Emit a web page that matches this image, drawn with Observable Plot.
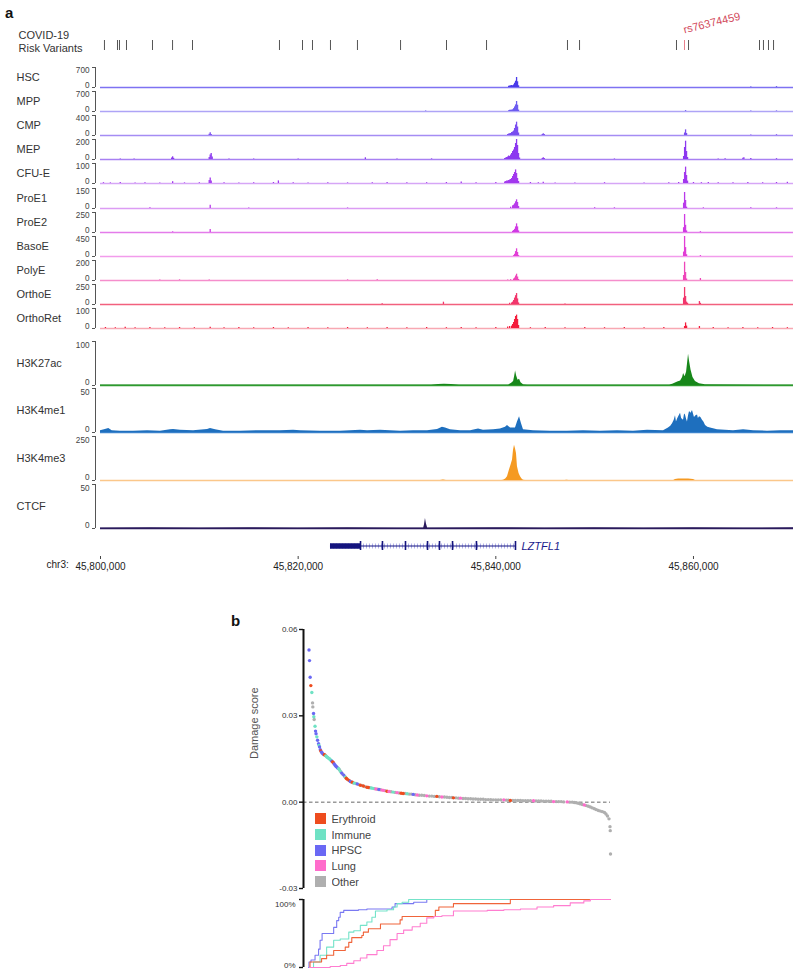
<!DOCTYPE html>
<html><head><meta charset="utf-8">
<script src="https://cdn.jsdelivr.net/npm/d3@7"></script>
<script src="https://cdn.jsdelivr.net/npm/@observablehq/plot@0.6"></script>
<style>
body{margin:0;background:#fff;font-family:"Liberation Sans",Arial,Helvetica,sans-serif;}
#root{position:relative;width:800px;height:976px;overflow:hidden;background:#fff;}
.letter{position:absolute;font-weight:bold;font-size:15px;line-height:15px;color:#111;}
</style></head>
<body><div id="root"></div>
<script>
const FONT = '"Liberation Sans", Arial, Helvetica, sans-serif';
// ---------- panel a data ----------
const regionStart = 45800000, regionEnd = 45870120;
const axisTicks = [45800000, 45820000, 45840000, 45860000];
const chromName = "chr3:";
// risk variants (kb offset from regionStart)
const riskVariantKb = [0.40,1.72,1.92,2.63,5.26,7.29,9.31,18.11,20.44,21.45,23.27,26.00,30.36,35.01,39.06,47.25,48.47,58.28,59.50,66.68,67.08,67.59,68.10];
const leadVariantKb = 59.09;
const leadVariantName = "rs76374459";

// ATAC tracks
const trackNames = ["HSC","MPP","CMP","MEP","CFU-E","ProE1","ProE2","BasoE","PolyE","OrthoE","OrthoRet"];
const trackMax = [700,700,400,200,100,150,250,450,200,250,100];
const trackColors = ["#4A3AEA","#6C5CF0","#7A4EF0","#8C38F0","#A238EE","#B83AEA","#D03AE4","#E23ED6","#EE46BA","#F2366C","#F41C3C"];
const trackBaseColors = ["#7E72F2","#AEA4F6","#A58CF4","#A880F2","#D6A6F6","#DC9CF4","#E47CEA","#F29CEC","#F58ECC","#F2607E","#F8A8B2"];
const trackTops = [67,91,115,139,163,188,212,236,260,284,308];

const hscBins = [[41.3,40],[41.4,50],[41.5,60],[41.6,70],[41.7,60],[41.8,90],[41.9,150],[42.0,220],[42.1,350],[42.2,200],[42.3,60],[65.8,20],[68.4,25]];
const mppBins = [[32.9,15],[41.3,30],[41.4,40],[41.5,45],[41.6,50],[41.7,60],[41.8,100],[41.9,160],[42.0,230],[42.1,350],[42.2,220],[42.3,50],[59.2,30],[65.8,15],[68.4,20]];
const cmpBins = [[11.0,25],[11.1,53],[11.2,20],[41.2,20],[41.3,30],[41.4,35],[41.5,40],[41.6,60],[41.7,70],[41.8,90],[41.9,140],[42.0,210],[42.1,267],[42.2,170],[42.3,50],[44.7,20],[44.8,33],[44.9,20],[59.1,50],[59.2,113],[59.3,40],[65.8,10],[68.4,15]];
const mepBins = [[2.0,6],[3.4,5],[7.2,15],[7.3,27],[7.4,12],[11.0,20],[11.1,45],[11.2,60],[11.3,25],[13.0,5],[15.5,6],[20.0,5],[26.8,17],[30.0,5],[33.5,6],[40.9,10],[41.0,15],[41.1,20],[41.2,25],[41.3,35],[41.4,30],[41.5,45],[41.6,60],[41.7,80],[41.8,95],[41.9,120],[42.0,160],[42.1,200],[42.2,140],[42.3,60],[42.4,15],[44.7,10],[44.8,17],[44.9,10],[52.0,5],[59.0,30],[59.1,120],[59.2,183],[59.3,80],[59.4,20],[62.5,6],[63.2,8],[65.0,12],[65.1,17],[65.8,10],[68.4,8]];
const cfueBins = [[0.3,4],[1.0,3],[2.0,5],[3.5,3],[4.5,4],[6.0,3],[7.3,9],[8.5,3],[10.0,4],[11.0,15],[11.1,27],[11.2,12],[12.5,4],[14.0,3],[15.5,4],[17.5,5],[18.0,13],[19.5,4],[21.0,3],[23.0,4],[25.0,3],[27.5,4],[29.0,5],[31.0,4],[33.0,4],[35.0,5],[36.5,7],[38.0,4],[40.0,5],[40.9,8],[41.0,10],[41.1,12],[41.2,12],[41.3,15],[41.4,18],[41.5,20],[41.6,25],[41.7,35],[41.8,45],[41.9,55],[42.0,68],[42.1,50],[42.2,25],[42.3,10],[43.5,5],[44.3,4],[44.8,6],[46.0,3],[48.0,3],[51.0,4],[55.0,3],[57.5,4],[58.5,5],[59.0,20],[59.1,55],[59.2,82],[59.3,40],[59.4,12],[60.0,5],[60.8,4],[61.5,5],[62.5,4],[64.0,4],[65.5,5],[67.0,4],[68.4,5],[69.5,6]];
const proe1Bins = [[5.0,5],[11.1,25],[15.0,4],[25.0,4],[41.5,10],[41.7,20],[41.8,25],[41.9,35],[42.0,50],[42.1,65],[42.2,45],[42.3,15],[50.0,5],[52.0,5],[59.0,40],[59.1,120],[59.2,60],[59.3,10],[61.0,5],[65.8,5],[68.4,5]];
const proe2Bins = [[7.3,8],[11.1,37],[41.7,15],[41.8,25],[41.9,40],[42.0,70],[42.1,108],[42.2,70],[42.3,20],[59.0,60],[59.1,225],[59.2,90],[59.3,20],[60.7,10]];
const basoeBins = [[41.8,20],[41.9,50],[42.0,110],[42.1,173],[42.2,90],[42.3,20],[59.0,100],[59.1,450],[59.2,200],[59.3,40],[60.7,20]];
const polyeBins = [[6.0,6],[8.0,6],[11.0,5],[25.0,6],[28.0,8],[41.2,6],[41.5,8],[41.8,15],[41.9,25],[42.0,45],[42.1,63],[42.2,35],[42.3,10],[59.0,50],[59.1,183],[59.2,80],[59.3,15],[60.7,20]];
const orthoeBins = [[28.5,8],[34.7,29],[41.4,15],[41.6,20],[41.7,30],[41.8,50],[41.9,80],[42.0,110],[42.1,137],[42.2,70],[42.3,20],[47.0,5],[59.0,80],[59.1,212],[59.2,100],[59.3,30],[59.4,15],[60.6,37],[60.7,15]];
const orthoretBins = [[0.5,5],[1.5,4],[2.5,6],[3.5,4],[5.0,5],[6.5,4],[8.0,5],[9.5,4],[11.1,6],[12.5,4],[14.0,5],[15.5,4],[17.5,5],[19.0,4],[21.0,5],[23.0,4],[25.0,5],[27.0,4],[29.0,5],[31.0,4],[33.0,5],[35.0,4],[36.5,5],[38.0,4],[40.0,5],[41.2,8],[41.4,10],[41.6,12],[41.7,20],[41.8,30],[41.9,45],[42.0,60],[42.1,67],[42.2,45],[42.3,15],[43.5,4],[45.0,5],[47.0,4],[49.0,5],[51.0,4],[53.0,5],[55.0,4],[57.0,5],[59.1,10],[59.2,28],[59.3,12],[60.6,10],[62.0,5],[63.5,4],[65.0,5],[66.5,4],[68.0,5],[69.5,4]];
const trackBins = [hscBins,mppBins,cmpBins,mepBins,cfueBins,proe1Bins,proe2Bins,basoeBins,polyeBins,orthoeBins,orthoretBins];

// ChIP tracks
const chipNames = ["H3K27ac","H3K4me1","H3K4me3","CTCF"];
const chipMax = [100,50,250,50];
const chipColors = ["#17871A","#1E6FBE","#F59A22","#2A1A5C"];
const chipBaseColors = ["#2E9A2E","#3A82CC","#FBC78A","#2A1A5C"];
const chipTops = [341,388,436,484];
const h3k27acSignal = [[0,1],[33.5,1],[34.2,2.5],[34.8,3],[35.5,2],[36.3,1],[41.3,1],[41.6,5],[41.8,9],[41.9,20],[42.0,33],[42.1,22],[42.25,12],[42.4,14],[42.55,6],[42.8,1.5],[43.2,1],[57.6,1],[57.9,3],[58.4,8],[58.7,10],[58.9,18],[59.0,27],[59.15,20],[59.3,30],[59.4,50],[59.5,71],[59.6,55],[59.75,35],[59.95,18],[60.2,9],[60.6,4],[61.2,1.5],[70.12,1]];
const h3k4me1Signal = [[0,2],[0.4,3],[0.84,4.5],[1.18,2],[2.02,1.5],[3.34,1.5],[4.76,2],[6.07,1.5],[7.08,3],[7.39,3.4],[8.09,2.5],[9.41,2],[10.83,3.5],[11.13,4.5],[11.64,3],[12.45,1.5],[14.17,1.5],[16.19,2],[18.21,2],[19.53,2.5],[20.24,2],[22.26,1.5],[24.28,1.5],[26.31,2.5],[27.02,2],[28.33,2.5],[29.34,2],[30.36,1.5],[31.67,2],[33.09,2],[34.1,3.5],[34.6,6],[34.91,5],[35.41,3],[36.43,2],[37.44,2],[38.25,4],[38.75,2.5],[39.77,3],[40.47,4],[40.98,6],[41.18,8],[41.49,5],[41.99,5],[42.19,12],[42.4,18],[42.6,10],[42.8,3],[43.81,2],[45.53,1.5],[47.25,1.5],[48.87,2],[50.59,1.5],[52.31,2],[53.93,1.5],[55.35,2.5],[56.97,2],[57.47,5],[57.7,7],[57.88,10],[58.05,14],[58.18,19],[58.28,12],[58.38,15],[58.5,18],[58.69,22],[58.8,16],[58.99,14],[59.1,21],[59.19,20],[59.3,15],[59.39,12],[59.5,19],[59.6,24],[59.75,22],[59.9,25],[60.0,21],[60.1,17],[60.25,19],[60.41,20],[60.5,16],[60.61,18],[60.75,17],[60.91,14],[61.05,12],[61.22,8],[61.45,6],[61.72,5],[62.43,3],[64.05,2],[65.07,3],[66.08,2],[67.49,1.5],[68.81,2],[70.12,2]];
const h3k4me3Signal = [[0,0.5],[34.4,0.5],[34.7,3],[35.0,0.5],[40.6,0.5],[40.78,2],[41.0,8],[41.18,22],[41.38,60],[41.55,90],[41.69,116],[41.79,172],[41.89,200],[41.99,180],[42.09,153],[42.19,78],[42.35,40],[42.5,22],[42.65,8],[42.8,2],[43.0,0.5],[47.0,0.5],[47.2,2],[47.4,0.5],[58.0,0.5],[58.18,5],[58.5,8],[59.0,9],[59.5,9],[60.0,5],[60.2,0.5],[70.12,0.5]];
const ctcfSignal = [[0,0.6],[5,0.8],[10,0.6],[15,0.8],[20,0.6],[25,0.8],[30,0.6],[32.7,0.6],[32.78,4],[32.88,11.5],[32.98,5],[33.1,0.6],[40,0.8],[45,0.6],[50,0.8],[55,0.6],[60,0.8],[65,0.6],[70.12,0.8]];
const chipSignals = [h3k27acSignal,h3k4me1Signal,h3k4me3Signal,ctcfSignal];

// gene
const geneName = "LZTFL1";
const geneSpanKb = [23.27, 41.99];
const geneUtrKb = [23.27, 26.31];
const geneExonKb = [26.31,28.53,30.86,33.09,34.30,35.62,38.04,41.99];

// ---------- panel b data ----------
const groupCodes = ["E","I","H","L","O"];
const groupLabels = ["Erythroid","Immune","HPSC","Lung","Other"];
const groupColors = ["#EE4C1E","#6FE2C4","#6A68F4","#FF6CCB","#AFAFAF"];
const lineColors = {E:"#F0643A", I:"#74E3C9", H:"#7A79F2", L:"#FF7DD0"};
// [rank, damage score, group]
const damagePoints = [
[1,0.0529,"H"],[2,0.0492,"H"],[3.3,0.0434,"H"],[4.6,0.0405,"E"],[6.6,0.0381,"I"],[8,0.0345,"O"],[8.6,0.0331,"O"],[10,0.0308,"H"],[10.6,0.0297,"I"],[11.3,0.0287,"O"],
[13,0.0264,"I"],[14,0.0247,"H"],[15,0.0238,"H"],[16.6,0.0227,"I"],[18,0.0215,"H"],[20,0.0203,"H"],[21,0.0197,"I"],[22,0.0192,"H"],[23.5,0.0182,"H"],[24.5,0.0178,"E"],
[26,0.0174,"H"],[27,0.0171,"H"],[28.5,0.0168,"O"],[30,0.0166,"H"],[31.5,0.0165,"E"],[33,0.0163,"E"],[34.5,0.0161,"I"],[36,0.0158,"I"],[37.5,0.0156,"I"],[39,0.0154,"I"],
[40.5,0.0152,"I"],[42,0.0150,"I"],[43.5,0.0147,"I"],[45,0.0145,"I"],[46.5,0.0142,"H"],[48,0.0140,"E"],[49.5,0.0137,"E"],[51,0.0133,"H"],[52.5,0.0129,"H"],[54,0.0126,"H"],
[55.5,0.0123,"H"],[57,0.0121,"O"],[58.5,0.0118,"H"],[60,0.0116,"I"],[61.5,0.0113,"O"],[63,0.0108,"I"],[64.5,0.0105,"O"],[66,0.0101,"H"],[68,0.0097,"O"],[70,0.0094,"H"],
[72,0.0089,"O"],[73.5,0.0087,"I"],[75,0.0083,"E"],[77,0.0080,"E"],[79,0.0077,"O"],[81,0.0075,"E"],[83,0.0072,"H"],[85,0.0070,"O"],[87,0.0069,"E"],[89,0.0067,"O"],
[91,0.0066,"I"],[94,0.0065,"O"],[97,0.0063,"H"],[100,0.0061,"O"],[103,0.0059,"E"],[106,0.0058,"O"],[109,0.0056,"E"],[112,0.0054,"O"],[116,0.0052,"E"],[119,0.0051,"E"],
[122,0.0050,"O"],[125,0.0049,"I"],[128,0.0048,"I"],[131,0.0047,"O"],[134,0.0046,"L"],[137,0.0045,"O"],[140,0.0044,"H"],[143,0.0043,"O"],[146,0.0042,"L"],[149,0.0041,"L"],
[152,0.0040,"O"],[156,0.0038,"E"],[160,0.0037,"L"],[164,0.0036,"O"],[168,0.0035,"I"],[172,0.0034,"O"],[176,0.0033,"L"],[180,0.0032,"O"],[184,0.0031,"E"],[188,0.0030,"E"],
[192,0.0030,"O"],[196,0.0029,"I"],[200,0.0028,"O"],[204,0.0028,"O"],[208,0.0027,"H"],[212,0.0026,"O"],[216,0.0025,"L"],[220,0.0024,"O"],[225,0.0024,"O"],[230,0.0023,"O"],
[235,0.0022,"L"],[240,0.0021,"O"],[245,0.0021,"O"],[250,0.0020,"O"],[255,0.0020,"E"],[260,0.0019,"O"],[265,0.0018,"L"],[270,0.0018,"O"],[275,0.0017,"O"],[280,0.0016,"O"],
[285,0.0016,"O"],[288,0.0015,"E"],[293,0.0015,"O"],[298,0.0014,"O"],[302,0.0014,"L"],[307,0.0013,"O"],[312,0.0013,"O"],[317,0.0012,"O"],[322,0.0012,"O"],[327,0.0011,"O"],
[332,0.0011,"O"],[337,0.0010,"O"],[342,0.0010,"O"],[347,0.0010,"O"],[352,0.0009,"O"],[357,0.0009,"O"],[362,0.0009,"O"],[367,0.0008,"O"],[372,0.0008,"O"],[377,0.0008,"O"],
[382,0.0008,"O"],[388,0.0008,"L"],[393,0.0007,"O"],[397,0.0007,"O"],[401,0.0006,"E"],[406,0.0006,"O"],[411,0.0006,"O"],[416,0.0006,"O"],[421,0.0006,"O"],[426,0.0005,"O"],
[431,0.0005,"O"],[436,0.0005,"O"],[441,0.0005,"O"],[447,0.0005,"L"],[452,0.0004,"O"],[457,0.0004,"O"],[462,0.0004,"O"],[467,0.0003,"O"],[472,0.0003,"O"],[477,0.0003,"O"],
[482,0.0003,"O"],[487,0.0002,"L"],[492,0.0002,"O"],[497,0.0002,"O"],[502,0.0002,"O"],[507,0.0001,"O"],[514,0.0001,"L"],[519,0.0000,"O"],[524,0.0000,"O"],[528,-0.0001,"O"],
[532,-0.0002,"O"],[536,-0.0004,"O"],[540,-0.0006,"O"],[544,-0.0008,"O"],[548,-0.0010,"L"],[552,-0.0012,"O"],[556,-0.0014,"O"],[560,-0.0017,"O"],[564,-0.0020,"O"],[568,-0.0023,"O"],
[572,-0.0026,"O"],[576,-0.0029,"O"],[580,-0.0031,"O"],[584,-0.0033,"O"],[588,-0.0036,"O"],[591,-0.0041,"O"],[594,-0.0048,"O"],[597,-0.0058,"O"],[599,-0.0085,"O"],[599.5,-0.0099,"O"],
[600,-0.0180,"O"]];
const damageTicks = [-0.03, 0, 0.03, 0.06];
// cumulative fraction (%) per group vs rank, step points
const cumHPSC = [[0,0],[1,8],[5,11],[13,18],[20,27],[23,40],[27,50],[50,59],[56,69],[60,74],[63,81],[70,84],[99,85],[116,86],[166,89],[172,94],[209,96],[235,100],[600,100]];
const cumImmune = [[3,0],[10,8],[23,18],[36,30],[50,40],[63,42],[80,52],[90,54],[103,62],[116,67],[126,74],[133,83],[156,85],[169,89],[176,94],[186,96],[199,100],[600,100]];
const cumErythroid = [[2,0],[3,8],[26,13],[36,18],[50,25],[73,30],[80,37],[86,44],[106,47],[109,52],[119,57],[143,64],[182,70],[186,75],[252,84],[259,89],[288,94],[401,100],[600,100]];
const cumLung = [[2,0],[43,1.5],[63,3],[76,6],[90,10],[103,14],[116,19],[136,25],[149,32],[162,41],[176,50],[189,55],[206,60],[222,65],[235,73],[249,75],[265,76],[288,83],[355,84],[388,85],[421,86],[454,89],[487,91],[520,95],[547,98],[560,100],[600,100]];

// ---------- drawing ----------
const root = document.getElementById("root");
function put(node, left, top) { node.style.position = "absolute"; node.style.left = left + "px"; node.style.top = top + "px"; root.appendChild(node); }
const bp = kb => regionStart + kb * 1000;
const styleA = {background: "none", fontFamily: FONT, overflow: "visible", color: "#333"};

function letter(t, l, tp) { const d = document.createElement("div"); d.className = "letter"; d.textContent = t; d.style.left = l + "px"; d.style.top = tp + "px"; root.appendChild(d); }
letter("a", 5, 5);
letter("b", 231, 613);

// risk variants row
put(Plot.plot({
  width: 800, height: 42, marginLeft: 95, marginRight: 7, marginTop: 30, marginBottom: 2,
  style: styleA,
  x: {domain: [regionStart, regionEnd], insetLeft: 5, axis: null},
  marks: [
    Plot.tickX(riskVariantKb, {x: d => bp(d), stroke: "#555", strokeWidth: 1}),
    Plot.tickX([leadVariantKb], {x: d => bp(d), stroke: "#E8808C", strokeWidth: 1}),
    Plot.text([leadVariantName], {x: () => bp(leadVariantKb), text: d => d, frameAnchor: "top", dy: -7, rotate: -14, textAnchor: "start", lineAnchor: "bottom", fill: "#D24A5C", fontSize: 11}),
    Plot.text(["COVID-19\nRisk Variants"], {text: d => d, frameAnchor: "left", dx: -77, dy: -4, textAnchor: "start", fontSize: 11, lineHeight: 1.15, fill: "#333"})
  ]
}), 0, 10);

function trackPlot(name, max, color, base, top, h, marks) {
  const mt = 6, mb = 3;
  const big = h > 30;
  return Plot.plot({
    width: 800, height: h + mt + mb, marginLeft: 95, marginRight: 7, marginTop: mt, marginBottom: mb,
    style: styleA,
    x: {domain: [regionStart, regionEnd], insetLeft: 5, axis: null},
    y: {domain: [0, max], axis: null},
    marks: [
      Plot.ruleY([0], {x1: () => regionStart, x2: () => regionEnd, stroke: base, strokeWidth: 1.7}),
      ...marks,
      Plot.ruleX([regionStart], {y1: () => 0, y2: () => max, dx: -5, stroke: "#555", strokeWidth: 1}),
      Plot.axisY({ticks: [0, max], tickSize: 3, tickFormat: () => "", stroke: "#555"}),
      Plot.text([max], {y: d => d, text: d => String(d), frameAnchor: "left", dx: -6, dy: big ? 4 : 3, textAnchor: "end", fontSize: 8.2, fill: "#444"}),
      Plot.text([0], {y: d => d, text: d => String(d), frameAnchor: "left", dx: -6, dy: big ? -2.8 : -2, textAnchor: "end", fontSize: 8.2, fill: "#444"}),
      Plot.text([name], {text: d => d, frameAnchor: "left", dx: -79, textAnchor: "start", fontSize: 11, fill: "#333"})
    ]
  });
}

trackNames.forEach((name, i) => {
  const p = trackPlot(name, trackMax[i], trackColors[i], trackBaseColors[i], trackTops[i], 20, [
    Plot.ruleX(trackBins[i], {x: d => bp(d[0]), y1: () => 0, y2: d => d[1], stroke: trackColors[i], strokeWidth: 1.3})
  ]);
  put(p, 0, trackTops[i] - 6);
});

chipNames.forEach((name, i) => {
  const p = trackPlot(name, chipMax[i], chipColors[i], chipBaseColors[i], chipTops[i], 44, [
    Plot.areaY(chipSignals[i], {x: d => bp(d[0]), y: d => d[1], fill: chipColors[i]})
  ]);
  put(p, 0, chipTops[i] - 6);
});

// gene + coordinate axis
put(Plot.plot({
  width: 800, height: 45, marginLeft: 95, marginRight: 7, marginTop: 0, marginBottom: 24,
  style: styleA,
  x: {domain: [regionStart, regionEnd], insetLeft: 5, axis: null},
  y: {type: "band", domain: [geneName], padding: 0, axis: null},
  marks: [
    Plot.ruleY([geneName], {y: d => d, x1: () => bp(geneSpanKb[0]), x2: () => bp(geneSpanKb[1]), stroke: "#7070D8", strokeWidth: 5, strokeDasharray: "0.8 2.2", strokeOpacity: 0.7}),
    Plot.ruleY([geneName], {y: d => d, x1: () => bp(geneSpanKb[0]), x2: () => bp(geneSpanKb[1]), stroke: "#14147E", strokeWidth: 1}),
    Plot.ruleY([geneName], {y: d => d, x1: () => bp(geneUtrKb[0]), x2: () => bp(geneUtrKb[1]), stroke: "#14147E", strokeWidth: 5.5}),
    Plot.tickX(geneExonKb, {x: d => bp(d), y: () => geneName, stroke: "#14147E", strokeWidth: 1.6, insetTop: 6, insetBottom: 6}),
    Plot.text([geneName], {y: d => d, x: () => bp(geneSpanKb[1]), text: d => d, dx: 6, textAnchor: "start", fontStyle: "italic", fontSize: 11, fill: "#1A1A8C"}),
    Plot.axisX({ticks: axisTicks, tickFormat: d3.format(","), tickSize: 3, tickPadding: 3, fontSize: 10, stroke: "#444", fill: "#222"}),
    Plot.text([chromName], {text: d => d, frameAnchor: "bottom-left", dx: -49, dy: 11, textAnchor: "start", fontSize: 10, fill: "#222"})
  ]
}), 0, 535);

// panel b scatter
const grpColor = Object.fromEntries(groupCodes.map((g, i) => [g, groupColors[i]]));
put(Plot.plot({
  width: 400, height: 278, marginLeft: 83, marginRight: 10, marginTop: 14, marginBottom: 5,
  style: styleA,
  x: {domain: [0, 600], insetLeft: 5, axis: null},
  y: {domain: [-0.03, 0.06], axis: null},
  marks: [
    Plot.ruleY([0], {stroke: "#666", strokeDasharray: "3.5 2.5", strokeWidth: 1}),
    Plot.dot(damagePoints.filter(d => d[2] === "O"), {x: d => d[0], y: d => d[1], r: 1.7, fill: d => grpColor[d[2]]}),
    Plot.dot(damagePoints.filter(d => d[2] !== "O"), {x: d => d[0], y: d => d[1], r: 1.7, fill: d => grpColor[d[2]]}),
    Plot.ruleX([0], {y1: () => -0.03, y2: () => 0.06, dx: -5, stroke: "#111", strokeWidth: 2}),
    Plot.axisY({ticks: damageTicks, tickSize: 4, tickPadding: 2, tickFormat: d => d.toFixed(2), fontSize: 8, stroke: "#111", strokeWidth: 1.4, fill: "#333"}),
    Plot.text(["Damage score"], {text: d => d, frameAnchor: "left", rotate: -90, dx: -49, fontSize: 11, fill: "#555"})
  ]
}), 220, 615);

// legend
const leg = Plot.legend({color: {type: "categorical", domain: groupLabels, range: groupColors}, legend: "swatches", columns: 1, swatchSize: 11,
  style: {fontFamily: FONT, fontSize: "11px", color: "#444", background: "none"}});
leg.style.width = "120px";
leg.style.margin = "0";
put(leg, 315, 811);
for (const el of leg.children) { if (el.tagName !== "STYLE") { el.style.height = "15.7px"; el.style.paddingBottom = "0"; el.style.margin = "0"; } }

// cumulative
const cumSeries = [["H", cumHPSC], ["I", cumImmune], ["E", cumErythroid], ["L", cumLung]];
put(Plot.plot({
  width: 400, height: 86, marginLeft: 83, marginRight: 10, marginTop: 9, marginBottom: 9,
  style: styleA,
  x: {domain: [0, 600], insetLeft: 5, axis: null},
  y: {domain: [0, 100], axis: null},
  marks: [
    ...cumSeries.map(([g, s]) => Plot.line(s, {x: d => d[0], y: d => d[1], stroke: lineColors[g], strokeWidth: 1.1, curve: "step-after"})),
    Plot.ruleX([0], {y1: () => 0, y2: () => 100, dx: -5, stroke: "#111", strokeWidth: 2}),
    Plot.axisY({ticks: [0, 100], tickSize: 4, tickFormat: () => "", stroke: "#111", strokeWidth: 1.4}),
    Plot.text([100], {y: d => d, text: d => d + "%", frameAnchor: "left", dx: -8, dy: 5, textAnchor: "end", fontSize: 8, fill: "#333"}),
    Plot.text([0], {y: d => d, text: d => d + "%", frameAnchor: "left", dx: -8, dy: -2, textAnchor: "end", fontSize: 8, fill: "#333"})
  ]
}), 220, 890);
</script>
</body></html>
